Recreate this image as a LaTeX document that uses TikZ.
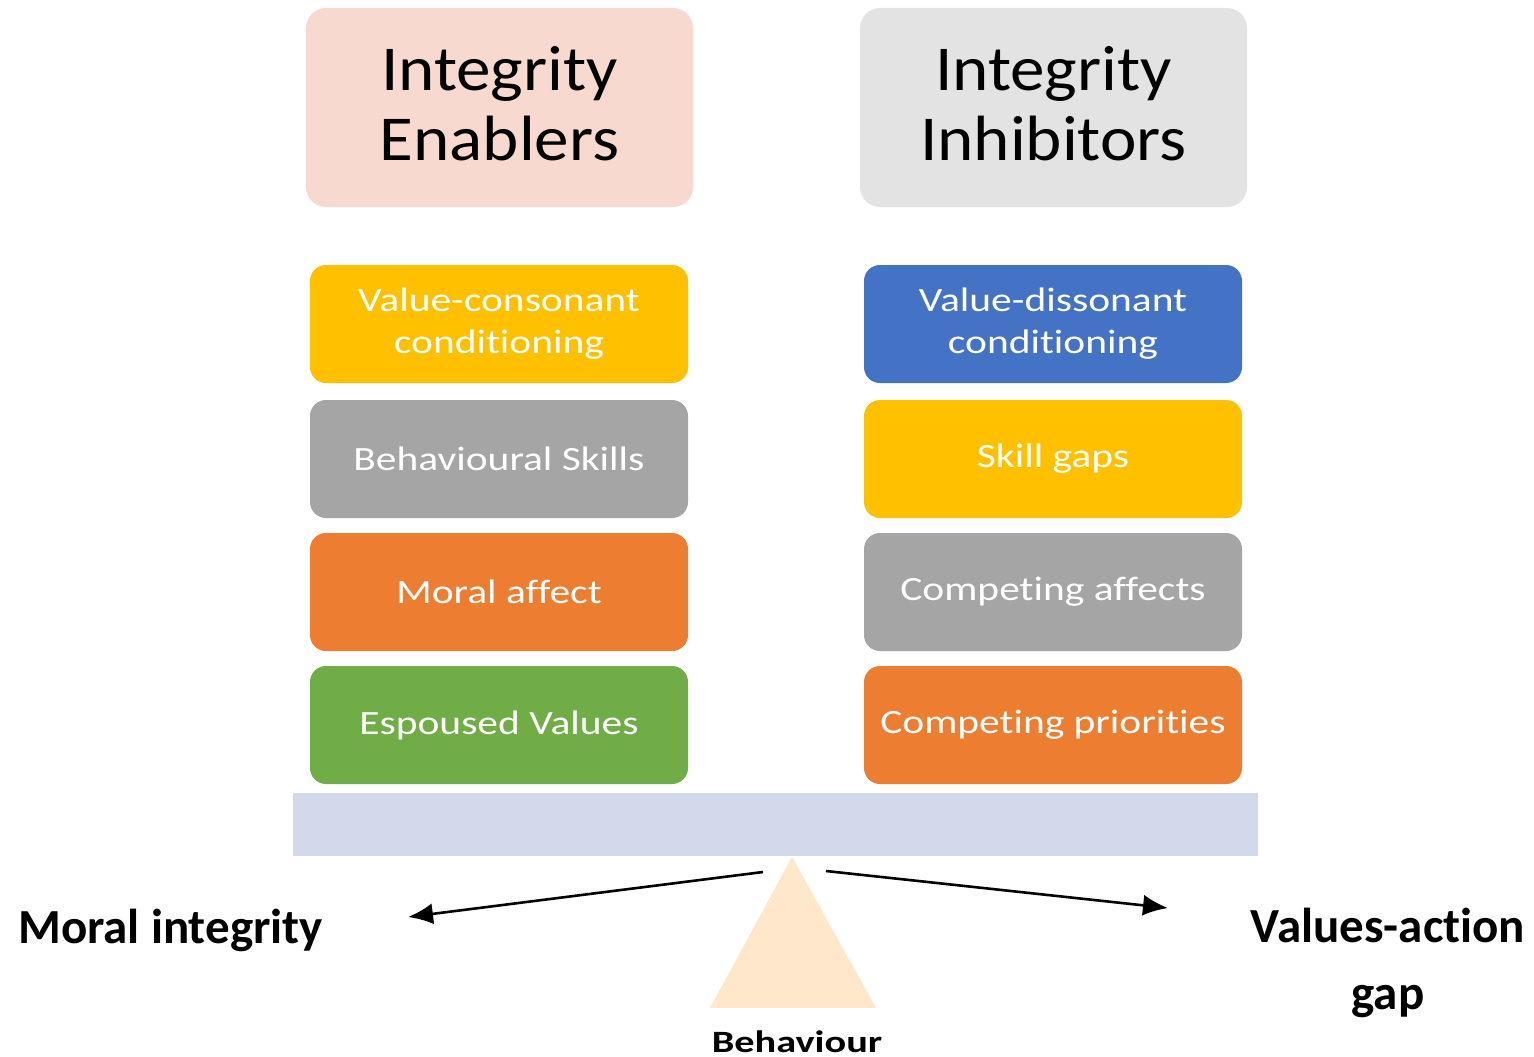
\documentclass[tikz,border=0pt]{standalone}
\usepackage{fontspec}
\setmainfont{Carlito}[Ligatures=NoCommon]
\newfontfamily\hdrfont{Carlito}[Ligatures=NoCommon,FakeStretch=1.08]
\newfontfamily\itemfont{Carlito}[Ligatures=NoCommon,FakeStretch=1.22]
\newfontfamily\behfont{Carlito}[Ligatures=NoCommon,FakeStretch=1.3]
\definecolor{hdrL}{HTML}{F8D9D0}
\definecolor{hdrR}{HTML}{E3E3E3}
\definecolor{cyel}{HTML}{FFC000}
\definecolor{cblu}{HTML}{4472C4}
\definecolor{cgry}{HTML}{A5A5A5}
\definecolor{corg}{HTML}{ED7D31}
\definecolor{cgrn}{HTML}{70AD47}
\definecolor{beam}{HTML}{D3D9EB}
\definecolor{tri}{HTML}{FFE7CC}
\usetikzlibrary{arrows.meta}
\tikzset{
  hdr/.style={rounded corners=20pt, minimum width=387pt, minimum height=199pt, align=center, inner sep=0pt,
    font=\hdrfont\fontsize{64}{70}\selectfont},
  item/.style={rounded corners=16pt, minimum width=378pt, minimum height=118pt, align=center, inner sep=0pt,
    text=white, font=\itemfont\fontsize{34}{42}\selectfont},
  lbl/.style={font=\fontsize{49}{67}\selectfont\bfseries, align=center, inner sep=0pt},
  arr/.style={-{Latex[length=25pt,width=21pt]}, line width=2.6pt}
}
\begin{document}
\begin{tikzpicture}[x=1pt,y=-1pt]
\useasboundingbox (0,0) rectangle (1534,1057);
\node[hdr, fill=hdrL] (hl) at (499.5,107.5) {};
\node[hdr, fill=hdrR] (hr) at (1053.5,107.5) {};
\node[hdr, anchor=center] (hlt) at ([yshift=4pt]hl.center) {Integrity\\Enablers};
\node[hdr, anchor=center] (hrt) at ([yshift=4pt]hr.center) {Integrity\\Inhibitors};
\node[item, fill=cyel] (l1) at (499,324) {Value-consonant\\conditioning};
\node[item, fill=cgry] (l2) at (499,459) {Behavioural Skills};
\node[item, fill=corg] (l3) at (499,592) {Moral affect};
\node[item, fill=cgrn] (l4) at (499,725) {Espoused Values};
\node[item, fill=cblu] (r1) at (1053,324) {Value-dissonant\\conditioning};
\node[item, fill=cyel] (r2) at (1053,459) {Skill gaps};
\node[item, fill=cgry] (r3) at (1053,592) {Competing affects};
\node[item, fill=corg] (r4) at (1053,725) {Competing priorities};
\fill[beam] (293,793) rectangle (1258,856);
\fill[tri] (792,857) -- (876,1008) -- (710,1008) -- cycle;
\coordinate (la) at (763,872);
\coordinate (lb) at (408,917);
\coordinate (ra) at (826,871);
\coordinate (rb) at (1168,908);
\draw[arr] (la) -- (lb);
\draw[arr] (ra) -- (rb);
\node[lbl, anchor=west] (mi) at (18,930) {Moral integrity};
\node[lbl] (va) at (1388,963) {Values-action\\gap};
\node[font=\behfont\fontsize{31}{31}\selectfont\bfseries, inner sep=0pt, anchor=base] (bh) at (797,1052) {Behaviour};
\end{tikzpicture}
\end{document}
